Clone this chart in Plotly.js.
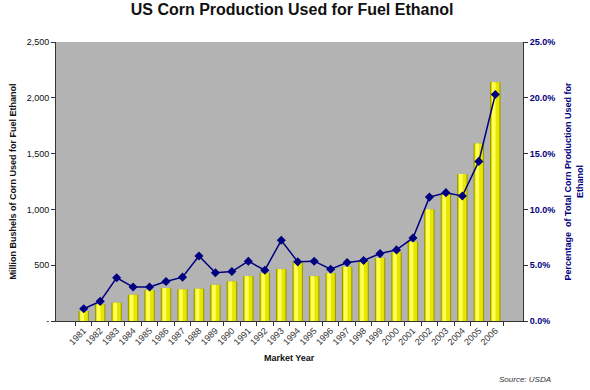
<!DOCTYPE html>
<html>
<head>
<meta charset="utf-8">
<script src="https://cdn.plot.ly/plotly-3.0.1.min.js"></script>
<style>html,body{margin:0;padding:0;background:#fff;}#chart{width:590px;height:390px;}</style>
</head>
<body>
<div id="chart"></div>
<script>
var years = ['1981','1982','1983','1984','1985','1986','1987','1988','1989','1990','1991','1992','1993','1994','1995','1996','1997','1998','1999','2000','2001','2002','2003','2004','2005','2006'];
var bushels = [89,149,164,235,277,295,283,289,324,354,402,431,464,537,401,428,485,533,565,616,711,1000,1141,1318,1590,2140];
var percentUsed = [1.1,1.76,3.87,3.04,3.04,3.54,3.93,5.83,4.32,4.43,5.36,4.55,7.23,5.3,5.36,4.64,5.24,5.42,6.04,6.37,7.44,11.1,11.5,11.2,14.3,20.3];
var leftTicks = [0,500,1000,1500,2000,2500];
var leftTickText = ['-','500','1,000','1,500','2,000','2,500'];
var rightTicks = [0,5,10,15,20,25];
var rightTickText = ['0.0%','5.0%','10.0%','15.0%','20.0%','25.0%'];

var font = 'Liberation Sans, Arial, sans-serif';

var traces = [
  {type:'bar', x:years, y:bushels, width:0.64, marker:{color:'#9c9c00'}, hoverinfo:'skip'},
  {type:'bar', x:years, y:bushels, width:0.5, marker:{color:'#e6e600'}, hoverinfo:'skip'},
  {type:'bar', x:years, y:bushels, width:0.22, offset:-0.2, marker:{color:'#ffff55'}, hoverinfo:'skip'},
  {type:'scatter', mode:'lines+markers', x:years, y:percentUsed, yaxis:'y2',
   line:{color:'#000080', width:1.5}, marker:{symbol:'diamond', size:7, color:'#000080'}}
];

var layout = {
  width:590, height:390,
  margin:{l:56, r:67, t:42, b:69},
  paper_bgcolor:'#ffffff',
  plot_bgcolor:'#b3b3b3',
  showlegend:false,
  barmode:'overlay',
  font:{family:font, size:9, color:'#222'},
  title:{text:'<b>US Corn Production Used for Fuel Ethanol</b>', font:{family:font, size:16, color:'#111'},
         x:0.495, xanchor:'center', y:0.975, yanchor:'middle', yref:'container'},
  xaxis:{type:'category', tickangle:-45, ticks:'outside', tickson:'boundaries', ticklen:4,
         tickcolor:'#333', showline:true, linecolor:'#333', linewidth:1, showgrid:false,
         tickfont:{family:font, size:9, color:'#333'}},
  yaxis:{range:[0,2500], tickvals:leftTicks, ticktext:leftTickText, ticks:'outside', ticklen:4,
         tickcolor:'#333', showline:true, linecolor:'#333', linewidth:1, showgrid:false, zeroline:false,
         tickfont:{family:font, size:9, color:'#111'},
         title:{text:'<b>Million Bushels of Corn Used for Fuel Ethanol</b>', font:{family:font, size:9, color:'#111'}, standoff:8}},
  yaxis2:{overlaying:'y', side:'right', range:[0,25], tickvals:rightTicks, ticktext:rightTickText,
          ticks:'outside', ticklen:4, tickcolor:'#333', showline:true, linecolor:'#333', linewidth:1,
          showgrid:false, zeroline:false,
          tickfont:{family:font, size:9, color:'#000080', weight:'bold'},
          title:{text:'<b>Percentage  of Total Corn Production Used for<br>Ethanol</b>', font:{family:font, size:9, color:'#000080'}, standoff:10}},
  annotations:[
    {text:'<b>Market Year</b>', xref:'paper', yref:'paper', x:0.5, y:-0.133, xanchor:'center', yanchor:'middle',
     showarrow:false, font:{family:font, size:9, color:'#111'}},
    {text:'<i>Source: USDA</i>', xref:'paper', yref:'paper', x:1.065, y:-0.208, xanchor:'right', yanchor:'middle',
     showarrow:false, font:{family:font, size:8, color:'#333'}}
  ]
};

Plotly.newPlot('chart', traces, layout, {displayModeBar:false, staticPlot:true});
</script>
</body>
</html>
